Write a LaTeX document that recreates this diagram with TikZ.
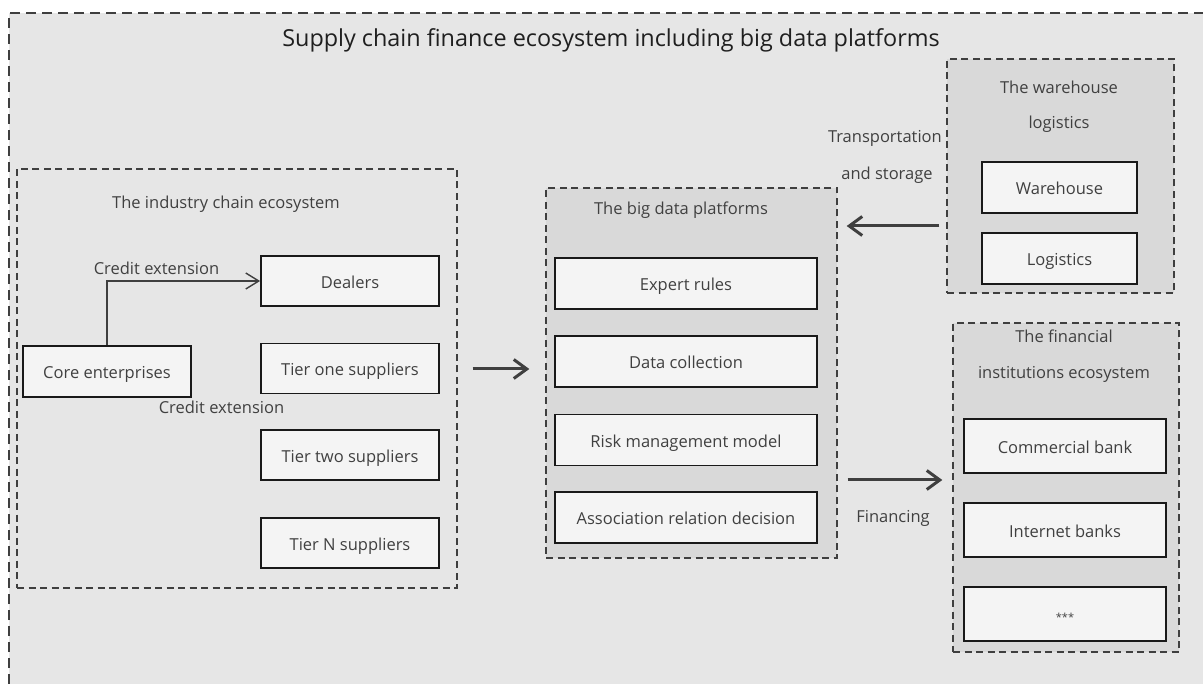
\documentclass[tikz,border=0pt]{standalone}
\usepackage{fontspec}
\setmainfont{Open Sans}
\usetikzlibrary{arrows.meta}
\definecolor{bgouter}{HTML}{E6E6E6}
\definecolor{bginner}{HTML}{D9D9D9}
\definecolor{boxfill}{HTML}{F4F4F4}
\definecolor{lineg}{HTML}{3F3F3F}
\definecolor{txt}{HTML}{404040}
\tikzset{
  container/.style={draw=lineg, line width=1.4pt, dash pattern=on 7pt off 4.5pt, fill=bginner, inner sep=0pt, rectangle},
  sbox/.style={draw=black!90, line width=1.8pt, fill=boxfill, inner sep=0pt, rectangle,
               text=txt, font=\fontsize{16.5}{18}\selectfont, text height=15pt, text depth=0pt},
  lbl/.style={text=txt, font=\fontsize{16.5}{18}\selectfont, inner sep=0pt, anchor=base},
  thinarrow/.style={draw=lineg, line width=1.4pt, -{Straight Barb[length=13pt,width=16pt]}},
  bigarrow/.style={draw=lineg, line width=3pt, -{Straight Barb[length=13pt,width=19pt]}},
}
\begin{document}
\begin{tikzpicture}[x=1pt,y=-1pt]
\useasboundingbox (0,0) rectangle (1203,684);
\clip (0,0) rectangle (1203,684);
\fill[white] (0,0) rectangle (1203,684);
% outer frame
\fill[bgouter] (9,13) rectangle (1215,700);
\draw[lineg, line width=1.8pt, dash pattern=on 10pt off 6pt] (9,700) -- (9,13) -- (1215,13);
\node[font=\fontsize{23.4}{27}\selectfont, text=black!88, anchor=base, inner sep=0pt] (title) at (611,47)
  {Supply chain finance ecosystem including big data platforms};

% containers
\node[container, fill=bgouter, minimum width=440pt, minimum height=419pt] (industry) at (237,378.5) {};
\node[container, minimum width=291pt, minimum height=370pt] (bigdata) at (691.5,373) {};
\node[container, minimum width=227pt, minimum height=234pt] (warehouse) at (1060.5,176) {};
\node[container, minimum width=226pt, minimum height=329pt] (financial) at (1066,487.5) {};

% container labels
\node[lbl] (lind) at (226,209) {The industry chain ecosystem};
\node[lbl] (lbd) at (681,215) {The big data platforms};
\node[lbl] (lwh1) at (1059,94) {The warehouse};
\node[lbl] (lwh2) at (1059,129) {logistics};
\node[lbl] (lfi1) at (1064,343) {The financial};
\node[lbl] (lfi2) at (1064,379) {institutions ecosystem};

% industry chain boxes
\node[sbox, minimum width=178pt, minimum height=50pt] (dealers) at (350,281) {Dealers};
\node[sbox, minimum width=168pt, minimum height=51pt] (core) at (107,371.5) {Core enterprises};
\node[sbox, minimum width=178pt, minimum height=50pt] (tier1) at (350,368.5) {Tier one suppliers};
\node[sbox, minimum width=178pt, minimum height=50pt] (tier2) at (350,455) {Tier two suppliers};
\node[sbox, minimum width=178pt, minimum height=50pt] (tierN) at (350,543) {Tier N suppliers};

% big data boxes
\node[sbox, minimum width=262pt, minimum height=51pt] (expert) at (686,283.5) {Expert rules};
\node[sbox, minimum width=262pt, minimum height=51pt] (datacol) at (686,361.5) {Data collection};
\node[sbox, minimum width=262pt, minimum height=51pt] (risk) at (686,440) {Risk management model};
\node[sbox, minimum width=262pt, minimum height=51pt] (assoc) at (686,517.5) {Association relation decision};

% warehouse boxes
\node[sbox, minimum width=155pt, minimum height=51pt] (whbox) at (1059.5,187.5) {Warehouse};
\node[sbox, minimum width=155pt, minimum height=51pt] (logbox) at (1059.5,258.5) {Logistics};

% financial boxes
\node[sbox, minimum width=202pt, minimum height=54pt] (combank) at (1065,446) {Commercial bank};
\node[sbox, minimum width=202pt, minimum height=54pt] (netbank) at (1065,530) {Internet banks};
\node[sbox, minimum width=202pt, minimum height=54pt, font=\fontsize{11}{13}\selectfont] (etc) at (1065,614) {***};

% connector labels
\node[lbl] (ce1) at (156.5,275) {Credit extension};
\node[lbl] (ce2) at (221.5,414) {Credit extension};
\node[lbl, anchor=base east] (ts1) at (942,143) {Transportation};
\node[lbl] (ts2) at (887,180) {and storage};
\node[lbl] (fin) at (893,522) {Financing};

% connectors
\draw[thinarrow] (core.north) |- (dealers.west);
\draw[bigarrow] ([xshift=15pt,yshift=9.5pt]industry.east) -- ([xshift=-16pt,yshift=4pt]bigdata.west);
\draw[bigarrow] ([xshift=-7pt,yshift=-50pt]warehouse.west) -- ([xshift=9pt,yshift=-50pt]warehouse.west -| bigdata.east);
\draw[bigarrow] ([xshift=10pt,yshift=-107pt]bigdata.east) -- ([xshift=-10pt,yshift=-107pt]bigdata.east -| financial.west);
\end{tikzpicture}
\end{document}
